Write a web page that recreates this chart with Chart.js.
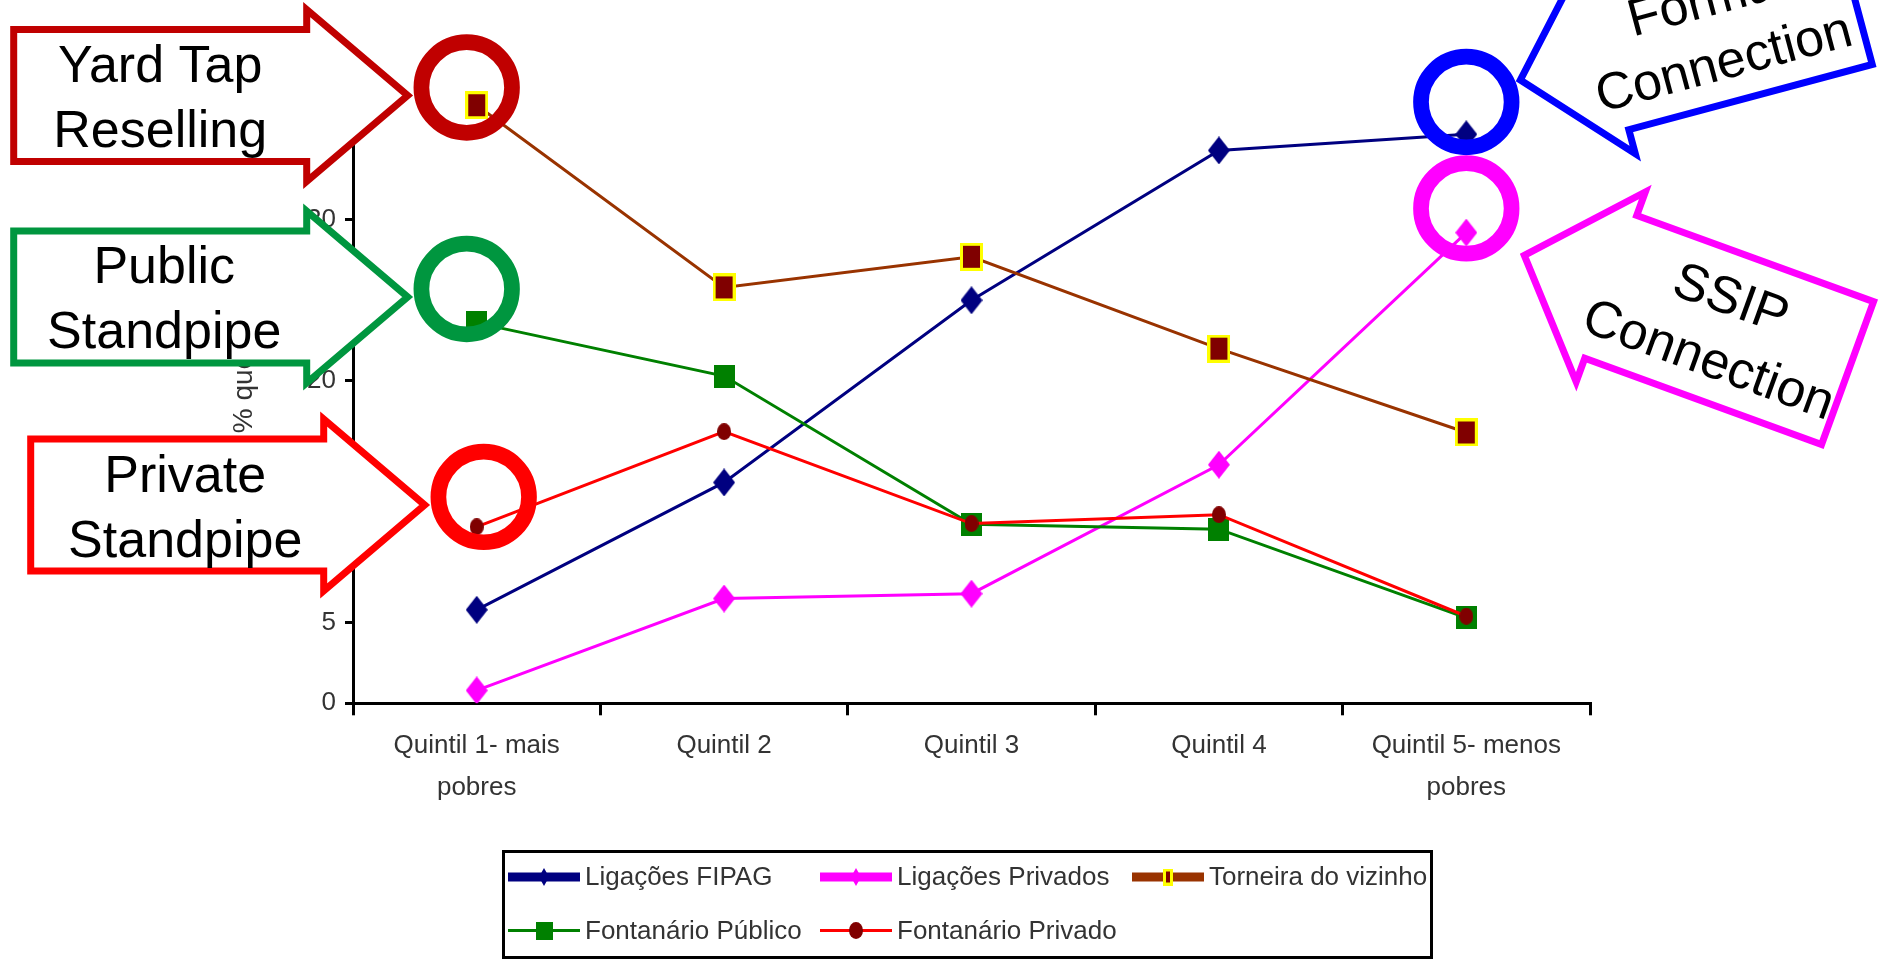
<!DOCTYPE html>
<html lang="pt">
<head>
<meta charset="utf-8">
<title>Acesso à água por quintil</title>
<script src="https://cdn.jsdelivr.net/npm/chart.js@4.4.1/dist/chart.umd.min.js"></script>
<style>
  html, body { margin: 0; padding: 0; background: #fff; }
  #caixa { width: 1879px; height: 960px; }
</style>
</head>
<body>
<div id="caixa"><canvas id="grafico"></canvas></div>
<script>
// DADOS
const quintis = [["Quintil 1- mais", "pobres"], "Quintil 2", "Quintil 3", "Quintil 4", ["Quintil 5- menos", "pobres"]];
const ligacoesFipag = [5.8, 13.7, 25.0, 34.3, 35.3];
const ligacoesPrivados = [0.8, 6.5, 6.8, 14.8, 29.2];
const torneiraVizinho = [37.1, 25.8, 27.7, 22.0, 16.8];
const fontanarioPublico = [23.6, 20.3, 11.1, 10.8, 5.3];
const fontanarioPrivado = [10.95, 16.85, 11.15, 11.7, 5.4];
const ticksY = [0, 5, 10, 15, 20, 25, 30, 35, 40];

const fonte = '"Liberation Sans", Arial, sans-serif';
const corTexto = "#333";

//ANEIS DE DESTAQUE (quintil + valor no eixo, ajuste horizontal em px)
const aneis = [
  { cor: "#C00000", quintil: 0, valor: 38.2, dx: -10 },
  { cor: "#00963F", quintil: 0, valor: 25.7, dx: -10 },
  { cor: "#FF0000", quintil: 0, valor: 12.8, dx: 7 },
  { cor: "#0000FF", quintil: 4, valor: 37.3, dx: 0 },
  { cor: "#FF00FF", quintil: 4, valor: 30.7, dx: 0 },
];

//SETAS COM TEXTO, ANCORADAS NOS ANEIS
const formaEsq = { cabeca: 101, meiaCabeca: 86, meioCorpo: 66, corpo: 293, linha: 65 };
const formaDir = { cabeca: 92, meiaCabeca: 101, meioCorpo: 76, corpo: 252, linha: 65 };
const setas = [
  { anel: 0, texto: ["Yard Tap", "Reselling"], dx: -59, dy: 8, angulo: 0, sentido: 1, forma: formaEsq, tx: 0, ty: 0 },
  { anel: 1, texto: ["Public", "Standpipe"], dx: -59, dy: 8, angulo: 0, sentido: 1, forma: formaEsq, tx: 4, ty: 0 },
  { anel: 2, texto: ["Private", "Standpipe"], dx: -59, dy: 8, angulo: 0, sentido: 1, forma: formaEsq, tx: 8, ty: 1 },
  { anel: 3, texto: ["Formal", "Connection"], dx: 54, dy: -22, angulo: -15, sentido: -1, forma: formaDir, tx: -17, ty: 1 },
  { anel: 4, texto: ["SSIP", "Connection"], dx: 58, dy: 47, angulo: 20, sentido: -1, forma: formaDir, tx: -9, ty: 0 },
];

//MARCADORES DESENHADOS EM CANVAS
function marcador(larg, alt, desenho) {
  const c = document.createElement("canvas");
  c.width = larg;
  c.height = alt;
  desenho(c.getContext("2d"), larg, alt);
  return c;
}
const losango = (cor, l, a) => marcador(l, a, (ctx, w, h) => {
  ctx.fillStyle = cor;
  ctx.beginPath();
  ctx.moveTo(w / 2, 0);
  ctx.lineTo(w, h / 2);
  ctx.lineTo(w / 2, h);
  ctx.lineTo(0, h / 2);
  ctx.closePath();
  ctx.fill();
});
const quadrado = (cor, borda, l, a) => marcador(l, a, (ctx, w, h) => {
  if (borda) {
    ctx.fillStyle = borda;
    ctx.fillRect(0, 0, w, h);
    ctx.fillStyle = cor;
    ctx.fillRect(3, 3, w - 6, h - 6);
  } else {
    ctx.fillStyle = cor;
    ctx.fillRect(0, 0, w, h);
  }
});
const elipse = (cor, l, a) => marcador(l, a, (ctx, w, h) => {
  ctx.fillStyle = cor;
  ctx.beginPath();
  ctx.ellipse(w / 2, h / 2, w / 2, h / 2, 0, 0, Math.PI * 2);
  ctx.fill();
});

function serie(nome, valores, cor, ponto, pontoLegenda, espessuraLegenda, ordem) {
  return {
    label: nome,
    data: valores,
    borderColor: cor,
    backgroundColor: cor,
    borderWidth: 3,
    pointStyle: ponto,
    pointRadius: 8,
    tension: 0,
    fill: false,
    order: ordem,
    marcadorLegenda: pontoLegenda,
    espessuraLegenda: espessuraLegenda,
  };
}

function desenhaSeta(ctx, x, y, s) {
  const f = s.forma;
  const d = s.sentido;
  ctx.save();
  ctx.translate(x, y);
  ctx.rotate(s.angulo * Math.PI / 180);
  ctx.beginPath();
  ctx.moveTo(0, 0);
  ctx.lineTo(-d * f.cabeca, -f.meiaCabeca);
  ctx.lineTo(-d * f.cabeca, -f.meioCorpo);
  ctx.lineTo(-d * (f.cabeca + f.corpo), -f.meioCorpo);
  ctx.lineTo(-d * (f.cabeca + f.corpo), f.meioCorpo);
  ctx.lineTo(-d * f.cabeca, f.meioCorpo);
  ctx.lineTo(-d * f.cabeca, f.meiaCabeca);
  ctx.closePath();
  ctx.fillStyle = "#fff";
  ctx.fill();
  ctx.lineWidth = 7;
  ctx.lineJoin = "miter";
  ctx.strokeStyle = aneis[s.anel].cor;
  ctx.stroke();

  ctx.fillStyle = "#000";
  ctx.font = "52px " + fonte;
  ctx.textAlign = "center";
  ctx.textBaseline = "alphabetic";
  const cx = -d * (f.cabeca + f.corpo / 2) + s.tx;
  const n = s.texto.length;
  s.texto.forEach((t, i) => {
    ctx.fillText(t, cx, s.ty - (n - 1) * f.linha / 2 + i * f.linha + 0.36 * 52);
  });
  ctx.restore();
}

const anotacoes = {
  id: "anotacoes",
  afterDraw(chart) {
    const ctx = chart.ctx;
    const sx = chart.scales.x;
    const sy = chart.scales.y;

    //TITULO DO EIXO Y
    ctx.save();
    ctx.translate(sy.left + 252, sy.getPixelForValue(0) - 270);
    ctx.rotate(-Math.PI / 2);
    ctx.font = "28px " + fonte;
    ctx.fillStyle = corTexto;
    ctx.textAlign = "left";
    ctx.textBaseline = "alphabetic";
    ctx.fillText("% que usa", 0, 0);
    ctx.restore();

    //ANEIS
    const centros = aneis.map((a) => ({
      x: sx.getPixelForValue(a.quintil) + a.dx,
      y: sy.getPixelForValue(a.valor),
    }));
    aneis.forEach((a, i) => {
      ctx.save();
      ctx.beginPath();
      ctx.arc(centros[i].x, centros[i].y, 45.3, 0, Math.PI * 2);
      ctx.lineWidth = 15.7;
      ctx.strokeStyle = a.cor;
      ctx.stroke();
      ctx.restore();
    });

    //SETAS
    setas.forEach((s) => {
      desenhaSeta(ctx, centros[s.anel].x + s.dx, centros[s.anel].y + s.dy, s);
    });

    //LEGENDA COM MOLDURA
    ctx.save();
    ctx.lineWidth = 3;
    ctx.strokeStyle = "#000";
    ctx.strokeRect(503.5, 851.5, 928, 106);
    ctx.font = "26px " + fonte;
    ctx.textAlign = "left";
    ctx.textBaseline = "middle";
    chart.data.datasets.forEach((ds, i) => {
      const col = i % 3;
      const lin = Math.floor(i / 3);
      const x0 = 508 + col * 312;
      const y0 = 877 + lin * 53.5;
      ctx.strokeStyle = ds.borderColor;
      ctx.lineWidth = ds.espessuraLegenda;
      ctx.beginPath();
      ctx.moveTo(x0, y0);
      ctx.lineTo(x0 + 72, y0);
      ctx.stroke();
      const m = ds.marcadorLegenda;
      ctx.drawImage(m, x0 + 36 - m.width / 2, y0 - m.height / 2);
      ctx.fillStyle = corTexto;
      ctx.fillText(ds.label, x0 + 77, y0 + 1);
    });
    ctx.restore();
  },
};

Chart.defaults.font.family = fonte;

new Chart(document.getElementById("grafico"), {
  type: "line",
  data: {
    labels: quintis,
    datasets: [
      serie("Ligações FIPAG", ligacoesFipag, "#000080", losango("#000080", 22, 28), losango("#000080", 10, 18), 9, 5),
      serie("Ligações Privados", ligacoesPrivados, "#FF00FF", losango("#FF00FF", 22, 28), losango("#FF00FF", 10, 18), 9, 4),
      serie("Torneira do vizinho", torneiraVizinho, "#993300", quadrado("#800000", "#FFFF00", 23, 28), quadrado("#800000", "#FFFF00", 10, 17), 9, 3),
      serie("Fontanário Público", fontanarioPublico, "#008000", quadrado("#008000", null, 21, 23), quadrado("#008000", null, 17, 18), 3, 2),
      serie("Fontanário Privado", fontanarioPrivado, "#FF0000", elipse("#800000", 14, 17), elipse("#800000", 14, 17), 3, 1),
    ],
  },
  options: {
    responsive: true,
    maintainAspectRatio: false,
    animation: false,
    devicePixelRatio: 1,
    events: [],
    layout: { padding: { top: 58.5, right: 289, bottom: 0, left: 0 } },
    plugins: {
      legend: { display: false },
      tooltip: { enabled: false },
    },
    scales: {
      x: {
        offset: true,
        grid: { offset: true, drawOnChartArea: false, color: "#000", lineWidth: 3, tickLength: 12 },
        border: { color: "#000", width: 3 },
        ticks: { color: corTexto, font: { size: 26, lineHeight: 1.63 }, padding: 9, maxRotation: 0, autoSkip: false },
        afterFit: (s) => { s.height = 256.7; },
      },
      y: {
        min: 0,
        max: 40,
        afterBuildTicks: (s) => { s.ticks = ticksY.map((v) => ({ value: v })); },
        grid: { drawOnChartArea: false, color: "#000", lineWidth: 3, tickLength: 8 },
        border: { color: "#000", width: 3 },
        ticks: { color: corTexto, font: { size: 26 }, padding: 9 },
        afterFit: (s) => { s.width = 353; },
      },
    },
  },
  plugins: [anotacoes],
});
</script>
</body>
</html>
